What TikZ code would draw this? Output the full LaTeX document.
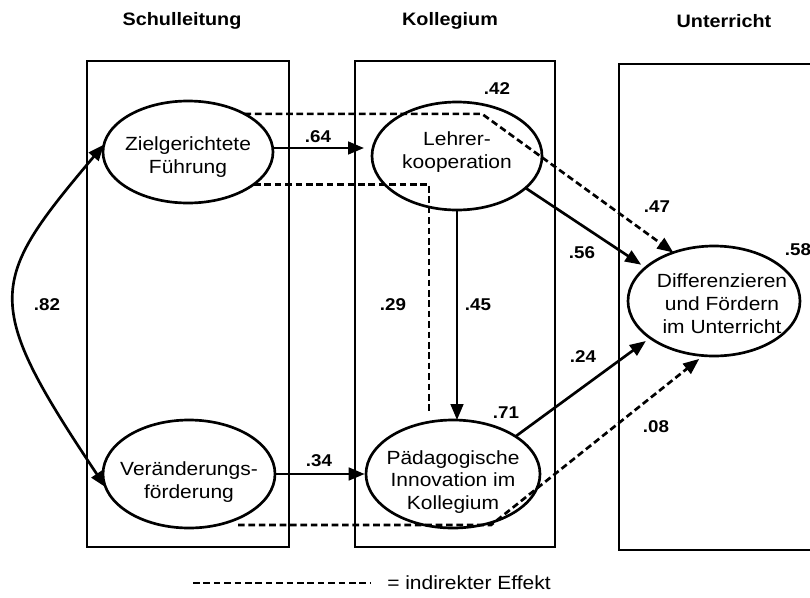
\documentclass[tikz,border=0pt]{standalone}
\usepackage{fontspec}
\setmainfont[FakeStretch=1.1]{Liberation Sans}
\usetikzlibrary{arrows.meta,shapes.geometric}
\begin{document}
\begin{tikzpicture}[x=0.75pt,y=-0.75pt,
  frame/.style={line width=1.7pt},
  latent/.style={draw,ellipse,line width=2pt,inner sep=0pt,outer sep=0pt},
  etext/.style={align=center,inner sep=0pt,font=\fontsize{14.3}{17.2}\selectfont},
  title/.style={font=\fontsize{13.5}{16}\selectfont\bfseries},
  coef/.style={font=\fontsize{12.8}{15}\selectfont\bfseries,inner sep=0pt},
  tip/.style={-{Triangle[length=12pt,width=9.5pt]}},
  arr/.style={line width=2pt,tip},
  ind/.style={line width=2pt,dash pattern=on 5pt off 2.8pt},
]
\useasboundingbox (0,0) rectangle (810,597);

% titles
\node[title] (t1) at (182,21) {Schulleitung};
\node[title] (t2) at (450,21) {Kollegium};
\node[title] (t3) at (724,21) {Unterricht};

% frames
\draw[frame] (87,61) rectangle (289,547);
\draw[frame] (355,61) rectangle (555,547);
\draw[frame] (619,64) rectangle (830,550);

% latent variables
\node[latent,minimum width=127.5pt,minimum height=76.5pt] (ZF) at (188,152) {};
\node[latent,minimum width=127.5pt,minimum height=81pt] (LK) at (457,156) {};
\node[latent,minimum width=129pt,minimum height=82.5pt] (DF) at (714,301) {};
\node[latent,minimum width=129pt,minimum height=81pt] (VF) at (189,474) {};
\node[latent,minimum width=130.5pt,minimum height=81pt] (PI) at (453,474) {};

\node[etext] (ZFt) at (188,157) {Zielgerichtete\\Führung};
\node[etext] (LKt) at (457,152) {Lehrer-\\kooperation};
\node[etext] (DFt) at (722,304) {Differenzieren\\und Fördern\\im Unterricht};
\node[etext] (VFt) at (189,482) {Veränderungs-\\förderung};
\node[etext] (PIt) at (453,482) {Pädagogische\\Innovation im\\Kollegium};

% direct effects
\draw[arr] (ZF.east |- 0,148) -- ([xshift=-6pt]LK.west |- 0,148);
\draw[arr] (VF.east) -- ([xshift=-1pt]PI.west);
\draw[arr] (LK.south) -- (LK.south |- PI.north);
\draw[arr,shorten >=4pt] (LK.-25) -- (DF.154);
\draw[arr,shorten >=4pt] (PI.31) -- (DF.210);

% correlation
\draw[line width=2pt,{Triangle[length=12pt,width=9.5pt]}-{Triangle[length=12pt,width=9.5pt]}]
  (ZF.175) .. controls (-12,282) and (-19,301) .. (VF.189);

% indirect effects
\coordinate (k1) at (482,112);
\coordinate (k2) at (429,414);
\coordinate (k3) at (238,525);
\coordinate (k4) at (491,525);
\draw[ind,tip] (ZF.34) -- (ZF.34 -| k1) -- (DF.130);
\draw[ind] (ZF.-26) -- (ZF.-26 -| k2) -- (k2);
\draw[ind,tip,shorten >=4pt] (k3) -- (k4) -- (DF.259);

% coefficients
\node[coef] (c64) at (318,137) {.64};
\node[coef] (c42) at (497,89) {.42};
\node[coef] (c47) at (657,207) {.47};
\node[coef] (c56) at (582,253) {.56};
\node[coef] (c58) at (798,250) {.58};
\node[coef] (c82) at (47,305) {.82};
\node[coef] (c29) at (393,305) {.29};
\node[coef] (c45) at (478,305) {.45};
\node[coef] (c24) at (583,357) {.24};
\node[coef] (c71) at (506,413) {.71};
\node[coef] (c34) at (319,461) {.34};
\node[coef] (c08) at (656,427) {.08};

% legend
\coordinate (l1) at (193,583);
\coordinate (l2) at (370,583);
\draw[ind] (l1) -- (l2);
\node[etext,anchor=west] (lt) at (387,583) {= indirekter Effekt};
\end{tikzpicture}
\end{document}
